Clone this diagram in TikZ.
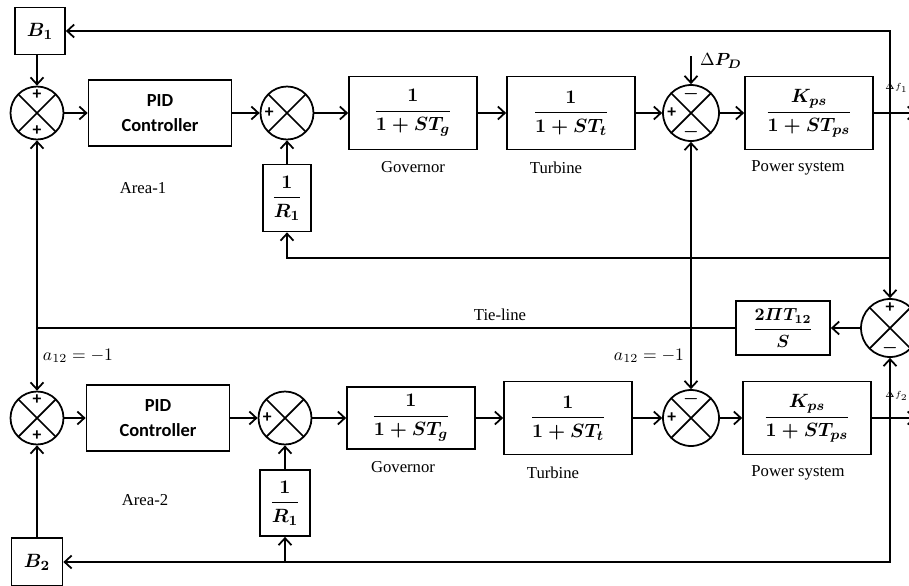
\documentclass[tikz,border=0pt]{standalone}
\usepackage{amsmath}
\usepackage{bm}
\usepackage{fontspec}
\setmainfont{Liberation Serif}
\newfontfamily\calfont{Carlito}
\usetikzlibrary{arrows.meta, positioning}

\begin{document}
\begin{tikzpicture}[x=0.02cm, y=-0.02cm,
   block/.style={draw, line width=1pt, minimum width=2.56cm, minimum height=1.46cm,
                 inner sep=1pt, font=\fontsize{11}{13}\selectfont},
   ctrl/.style={block, minimum width=2.86cm, minimum height=1.32cm, align=center,
                font=\calfont\bfseries\fontsize{10.5}{14}\selectfont},
   sum/.style={circle, draw, line width=1pt, minimum size=1.06cm, inner sep=0pt,
               path picture={\draw[line width=1pt]
                 (path picture bounding box.north west) -- (path picture bounding box.south east)
                 (path picture bounding box.north east) -- (path picture bounding box.south west);}},
   sgn/.style={anchor=center, inner sep=0pt, label distance=-0.19cm, font=\calfont\bfseries},
   lbl/.style={font=\fontsize{9.5}{11}\selectfont},
   outl/.style={anchor=east, inner sep=0pt, font=\fontsize{5}{6}\selectfont},
   sig/.style={-{Straight Barb[length=1.4mm, width=2.6mm]}, line width=1pt},
   wire/.style={line width=1pt}]

 \useasboundingbox (0,0) rectangle (909,585);

 % area 1
 \node[block, minimum width=1cm, minimum height=0.94cm] (b1) at (40,31) {$\bm{B_1}$};
 \node[sum, label={[sgn]90:+}, label={[sgn]270:+}] (s1) at (37,113) {};
 \node[ctrl] (pid1) at (160,113) {PID\\Controller};
 \node[sum, label={[sgn]180:+}] (s2) at (287,113) {};
 \node[block] (gov1) at (413,113) {$\displaystyle\bm{\frac{1}{1+ST_g}}$};
 \node[block] (tur1) at (571,113) {$\displaystyle\bm{\frac{1}{1+ST_t}}$};
 \node[sum, minimum size=1.12cm, label={[sgn]180:+}, label={[sgn]90:$\bm{-}$},
       label={[sgn]270:$\bm{-}$}] (s3) at (691,113) {};
 \node[block] (ps1) at (809,113) {$\displaystyle\bm{\frac{K_{ps}}{1+ST_{ps}}}$};
 \node[block, minimum width=0.96cm, minimum height=1.34cm] (r1a) at (287,198) {$\displaystyle\bm{\frac{1}{R_1}}$};

 \node[lbl, below=0.1cm of gov1] (gl1) {Governor};
 \node[lbl, below=0.1cm of tur1, xshift=-0.3cm] (tl1) {Turbine};
 \node[lbl, below=0.08cm of ps1, xshift=-0.22cm] (pl1) {Power system};
 \node[lbl] (ar1) at (143,188) {Area-1};

 \coordinate (pd) at (691,56);
 \node[anchor=west, font=\fontsize{10}{12}\selectfont] (pdl) at (694,61) {$\Delta\bm{P_D}$};
 \node[outl] (df1) at (908,88) {$\Delta f_1$};

 % tie-line
 \node[block, minimum width=1.88cm, minimum height=1.08cm, font=\fontsize{10}{12}\selectfont]
       (tie) at (783,328) {$\displaystyle\bm{\frac{2\varPi T_{12}}{S}}$};
 \node[sum, minimum size=1.16cm, label={[sgn]90:+}, label={[sgn]270:$\bm{-}$}] (s4) at (890,328) {};
 \node[lbl] (tll) at (500,315) {Tie-line};
 \node[font=\fontsize{10}{12}\selectfont] (a12a) at (78,356) {$a_{12}=-1$};
 \node[font=\fontsize{10}{12}\selectfont] (a12b) at (649,356) {$a_{12}=-1$};

 % area 2
 \node[sum, label={[sgn]90:+}, label={[sgn]270:+}] (s5) at (37,418) {};
 \node[ctrl] (pid2) at (158,418) {PID\\Controller};
 \node[sum, label={[sgn]180:+}] (s6) at (285,418) {};
 \node[block, minimum height=1.24cm] (gov2) at (411,418) {$\displaystyle\bm{\frac{1}{1+ST_g}}$};
 \node[block] (tur2) at (568,418) {$\displaystyle\bm{\frac{1}{1+ST_t}}$};
 \node[sum, minimum size=1.12cm, label={[sgn]180:+}, label={[sgn]90:$\bm{-}$}] (s7) at (691,418) {};
 \node[block] (ps2) at (807,418) {$\displaystyle\bm{\frac{K_{ps}}{1+ST_{ps}}}$};
 \node[block, minimum width=1cm, minimum height=1.32cm] (r1b) at (285,503) {$\displaystyle\bm{\frac{1}{R_1}}$};
 \node[block, minimum width=1.02cm, minimum height=0.96cm] (b2) at (37,562) {$\bm{B_2}$};

 \node[lbl, below=0.1cm of gov2, xshift=-0.16cm] (gl2) {Governor};
 \node[lbl, below=0.1cm of tur2, xshift=-0.3cm] (tl2) {Turbine};
 \node[lbl, below=0.08cm of ps2, xshift=-0.18cm] (pl2) {Power system};
 \node[lbl] (ar2) at (145,500) {Area-2};
 \node[outl] (df2) at (908,396) {$\Delta f_2$};

 % forward paths
 \draw[sig] (s1.north |- b1.south) -- (s1.north);
 \draw[sig] (s1) -- (pid1);
 \draw[sig] (pid1) -- (s2);
 \draw[sig] (s2) -- (gov1);
 \draw[sig] (gov1) -- (tur1);
 \draw[sig] (tur1) -- (s3);
 \draw[sig] (s3) -- (ps1);
 \draw[sig] (r1a) -- (s2);
 \draw[sig] (pd) -- (s3);

 \draw[sig] (b2) -- (s5);
 \draw[sig] (s5) -- (pid2);
 \draw[sig] (pid2) -- (s6);
 \draw[sig] (s6) -- (gov2);
 \draw[sig] (gov2) -- (tur2);
 \draw[sig] (tur2) -- (s7);
 \draw[sig] (s7) -- (ps2);
 \draw[sig] (r1b) -- (s6);

 % outputs and feedback
 \coordinate (o1) at (916,113);
 \coordinate (j1) at (890,113);
 \coordinate (f1) at (890,258);
 \draw[sig] (ps1) -- (o1);
 \draw[sig] (j1) |- (b1);
 \draw[sig] (j1) -- (s4);
 \draw[sig] (f1) -| (r1a);

 \coordinate (o2) at (916,418);
 \coordinate (j2) at (890,418);
 \coordinate (f2) at (r1b |- b2);
 \draw[sig] (ps2) -- (o2);
 \draw[sig] (j2) -- (s4);
 \draw[sig] (j2) |- (b2);
 \draw[sig] (f2) -- (r1b);

 % tie-line power
 \coordinate (tj) at (37,328);
 \coordinate (tj2) at (691,328);
 \draw[sig] (s4) -- (tie);
 \draw[wire] (tie) -- (tj);
 \draw[sig] (tj) -- (s1);
 \draw[sig] (tj) -- (s5);
 \draw[sig] (tj2) -- (s3);
 \draw[sig] (tj2) -- (s7);
\end{tikzpicture}
\end{document}
